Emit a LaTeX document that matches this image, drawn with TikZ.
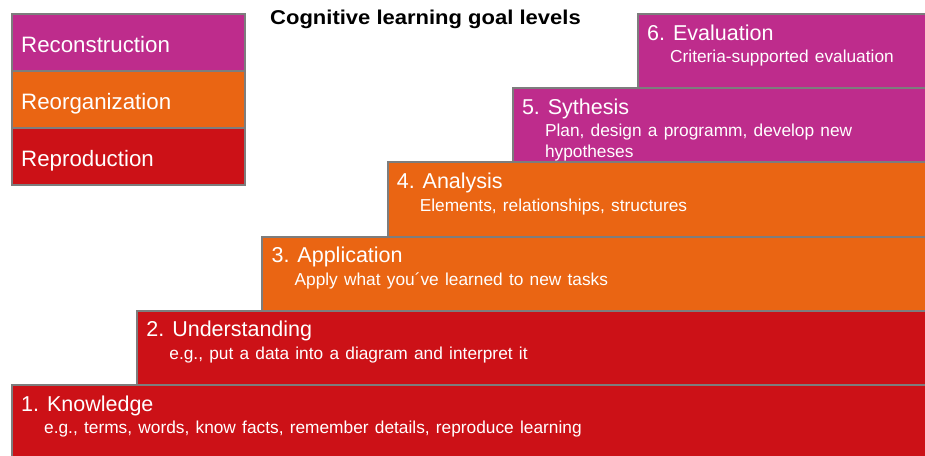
\documentclass[tikz,border=0pt]{standalone}
\usepackage{fontspec}
\setmainfont{Liberation Sans}
\newfontfamily\subfont[WordSpace=1.3]{Liberation Sans}
\definecolor{cmag}{RGB}{190,44,140}
\definecolor{corg}{RGB}{234,101,19}
\definecolor{cred}{RGB}{204,17,23}
\definecolor{cgray}{RGB}{125,125,125}
\tikzset{
  box/.style={draw=cgray, line width=2pt, anchor=north west, inner sep=0pt, outer sep=0pt},
  legtext/.style={anchor=base west, inner sep=0pt, text=white, font=\fontsize{22.3pt}{26pt}\selectfont},
  lvltitle/.style={anchor=base west, inner sep=0pt, text=white, font=\fontsize{21.5pt}{25pt}\selectfont},
  lvlsub/.style={anchor=base west, inner sep=0pt, text=white, font=\subfont\fontsize{17.3pt}{20pt}\selectfont},
}
\begin{document}
\begin{tikzpicture}[x=1pt,y=-1pt]
\useasboundingbox (0,0) rectangle (925,455);
% title
\node[anchor=base west, inner sep=0pt, font=\bfseries\fontsize{20pt}{24pt}\selectfont] (title) at (270,24) {\scalebox{1.1}[1]{Cognitive learning goal levels}};
% legend
\node[box, fill=cmag, minimum width=233pt, minimum height=57pt] (lg3) at (12,14) {};
\node[box, fill=corg, minimum width=233pt, minimum height=57pt] (lg2) at (12,71) {};
\node[box, fill=cred, minimum width=233pt, minimum height=57pt] (lg1) at (12,128) {};
\node[legtext] (lt3) at (21,52) {Reconstruction};
\node[legtext] (lt2) at (21,109) {Reorganization};
\node[legtext] (lt1) at (21,166) {Reproduction};
% steps
\node[box, fill=cmag, minimum width=300pt, minimum height=74.2pt] (s6) at (638,14) {};
\node[box, fill=cmag, minimum width=425pt, minimum height=74.2pt] (s5) at (512.8,88.2) {};
\node[box, fill=corg, minimum width=550pt, minimum height=74.2pt] (s4) at (387.6,162.4) {};
\node[box, fill=corg, minimum width=675pt, minimum height=74.2pt] (s3) at (262.4,236.6) {};
\node[box, fill=cred, minimum width=800pt, minimum height=74.2pt] (s2) at (137.2,310.8) {};
\node[box, fill=cred, minimum width=925pt, minimum height=80pt] (s1) at (12,385) {};
% texts
\node[lvltitle] (t6) at (647,40) {6. Evaluation};
\node[lvlsub] (u6) at (670,62) {Criteria-supported evaluation};
\node[lvltitle] (t5) at (521.8,114) {5. Sythesis};
\node[lvlsub] (u5a) at (544.8,136) {Plan, design a programm, develop new};
\node[lvlsub] (u5b) at (544.8,157) {hypotheses};
\node[lvltitle] (t4) at (396.6,188) {4. Analysis};
\node[lvlsub] (u4) at (419.6,211) {Elements, relationships, structures};
\node[lvltitle] (t3) at (271.4,262) {3. Application};
\node[lvlsub] (u3) at (294.4,285) {Apply what you´ve learned to new tasks};
\node[lvltitle] (t2) at (146.2,336) {2. Understanding};
\node[lvlsub] (u2) at (169.2,359) {e.g., put a data into a diagram and interpret it};
\node[lvltitle] (t1) at (21,411) {1. Knowledge};
\node[lvlsub] (u1) at (44,433) {e.g., terms, words, know facts, remember details, reproduce learning};
\end{tikzpicture}
\end{document}
